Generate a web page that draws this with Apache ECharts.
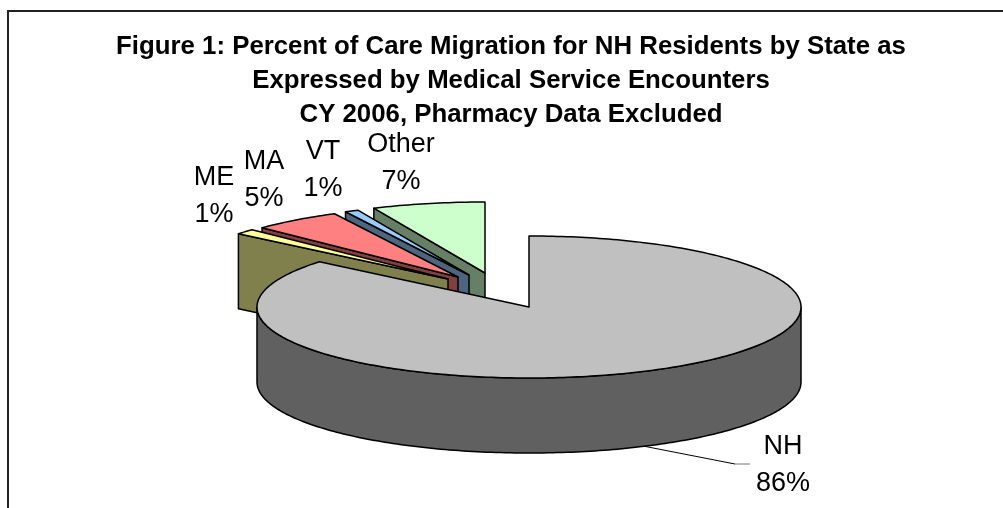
<!DOCTYPE html>
<html>
<head>
<meta charset="utf-8">
<style>
  html, body { margin: 0; padding: 0; background: #fff; }
  #chart { width: 1003px; height: 508px; }
</style>
<script src="https://cdn.jsdelivr.net/npm/echarts@6/dist/echarts.min.js"></script>
</head>
<body>
<div id="chart"></div>
<script>
// slices clockwise from 12 o'clock, as in the original pie
const categories = ['NH', 'ME', 'MA', 'VT', 'Other'];
const values = [86, 1.2, 5.3, 0.8, 6.7];
const percentLabels = ['86%', '1%', '5%', '1%', '7%'];

const topColors = ['#C0C0C0', '#FFFF99', '#FF8080', '#99CCFF', '#CCFFCC'];
const sideColors = ['#606060', '#80804D', '#804040', '#4D6680', '#668066'];

// pull of each slice away from the pie centre, px
const explodeX = [0, -81, -71, -60, -44];
const explodeY = [0, -28, -30, -32, -34];
// label anchor (centre of the two lines), px
const labelX = [783, 214, 264, 323, 401];
const labelY = [465, 196, 180, 170, 163];

const CX = 529, CY = 307, RX = 272, RY = 71, DEPTH = 75;
const total = values.reduce((a, b) => a + b, 0);

function point(cx, cy, deg) {
  const a = deg * Math.PI / 180;
  return [cx + RX * Math.sin(a), cy - RY * Math.cos(a)];
}

function arcPoints(cx, cy, from, to) {
  const pts = [];
  const n = Math.max(2, Math.ceil(Math.abs(to - from)));
  for (let i = 0; i <= n; i++) pts.push(point(cx, cy, from + (to - from) * i / n));
  return pts;
}

function renderSlice(params, api) {
  const i = api.value(0);
  let start = 0;
  for (let k = 0; k < i; k++) start += values[k] / total * 360;
  const end = start + values[i] / total * 360;
  const cx = CX + explodeX[i], cy = CY + explodeY[i];
  const children = [];
  const line = { stroke: '#000', lineWidth: 1.5, lineJoin: 'round' };
  const down = p => [p[0], p[1] + DEPTH];

  if (i > 0) {
    // cut face that looks towards the viewer
    const edge = [[cx, cy], point(cx, cy, start)];
    children.push({
      type: 'polygon',
      shape: { points: [edge[0], edge[1], down(edge[1]), down(edge[0])] },
      style: Object.assign({ fill: sideColors[i] }, line)
    });
  } else {
    // outer wall, front half only
    const front = arcPoints(cx, cy, 90, 270);
    children.push({
      type: 'polygon',
      shape: { points: front.concat(front.map(down).reverse()) },
      style: Object.assign({ fill: sideColors[i] }, line)
    });
  }
  children.push({
    type: 'polygon',
    shape: { points: [[cx, cy]].concat(arcPoints(cx, cy, start, end)) },
    style: Object.assign({ fill: topColors[i] }, line)
  });
  return { type: 'group', children };
}

const chart = echarts.init(document.getElementById('chart'), null, { renderer: 'canvas' });

chart.setOption({
  animation: false,
  backgroundColor: '#fff',
  title: {
    text: 'Figure 1: Percent of Care Migration for NH Residents by State as\nExpressed by Medical Service Encounters\nCY 2006, Pharmacy Data Excluded',
    left: 506,
    top: 25,
    textAlign: 'center',
    textStyle: {
      fontFamily: 'Liberation Sans',
      fontSize: 25.8,
      fontWeight: 'bold',
      color: '#000',
      lineHeight: 34
    }
  },
  graphic: [
    // chart area frame, cut off by the edge of the page
    { type: 'polyline', shape: { points: [[8, 508], [8, 11], [1003, 11]] }, style: { stroke: '#222', lineWidth: 2, fill: null } },
    // NH leader line
    { type: 'polyline', shape: { points: [[643, 446], [735, 464]] }, style: { stroke: '#000', lineWidth: 1, fill: null } },
    { type: 'polyline', shape: { points: [[735, 464], [750, 464]] }, style: { stroke: '#777', lineWidth: 1, fill: null } }
  ].concat(categories.map((c, i) => ({
    type: 'text',
    x: labelX[i],
    y: labelY[i],
    style: {
      text: c + '\n' + percentLabels[i],
      x: 0,
      y: 0,
      align: 'center',
      verticalAlign: 'middle',
      fontFamily: 'Liberation Sans',
      fontSize: 27,
      lineHeight: 37,
      fill: '#000'
    }
  }))),
  series: [{
    type: 'custom',
    coordinateSystem: 'none',
    silent: true,
    // painted back to front
    data: [4, 3, 2, 1, 0].map(i => [i, values[i]]),
    renderItem: renderSlice
  }]
});
</script>
</body>
</html>
